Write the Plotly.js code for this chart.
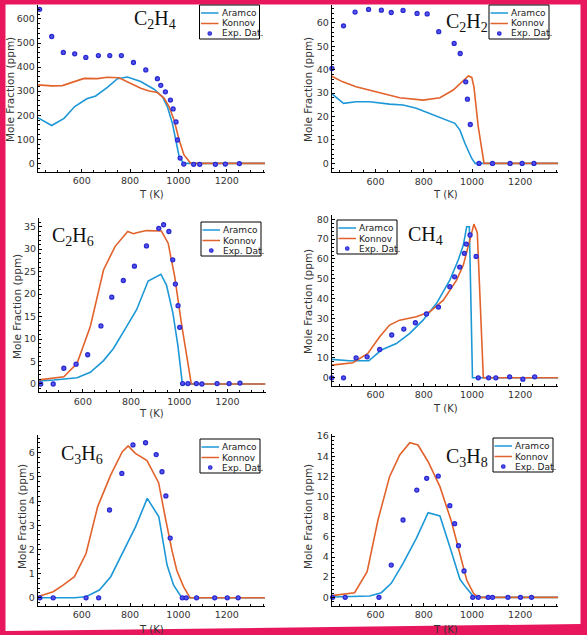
<!DOCTYPE html>
<html><head><meta charset="utf-8">
<script src="https://cdn.plot.ly/plotly-3.0.1.min.js"></script>
<style>html,body{margin:0;padding:0;background:#fff}#chart{width:587px;height:635px}</style>
</head><body><div id="chart"></div>
<script>
// ---------- DATA ----------
const seriesNames = ['Aramco', 'Konnov', 'Exp. Dat.'];
const speciesLabels = ['C<sub>2</sub>H<sub>4</sub>', 'C<sub>2</sub>H<sub>2</sub>', 'C<sub>2</sub>H<sub>6</sub>', 'CH<sub>4</sub>', 'C<sub>3</sub>H<sub>6</sub>', 'C<sub>3</sub>H<sub>8</sub>'];
const xTitle = 'T (K)';
const yTitle = 'Mole Fraction (ppm)';

// C2H4
const c2h4ExpT = [426,476,524,571,617,669,716,764,814,865,913,927,946,967,978,990,996,1007,1022,1063,1088,1153,1194,1252];
const c2h4ExpY = [640,527,461,455,440,448,448,448,419,388,352,324,297,263,226,172,97,22,-3,-4,-4,-4,-3,-1];
const c2h4AraT = [418,476,527,571,621,658,706,748,789,844,899,934,954,975,989,1003,1021,1358];
const c2h4AraY = [190,157,187,236,268,280,316,352,359,340,308,277,236,166,97,28,0,0];
const c2h4KonT = [418,476,520,568,610,665,706,754,803,844,879,913,941,961,982,1003,1023,1051,1358];
const c2h4KonY = [326,322,323,340,353,352,358,356,333,312,301,294,270,236,180,97,35,0,0];

// C2H2
const c2h2ExpT = [419,467,515,571,624,665,714,772,814,862,926,951,974,981,993,1029,1085,1158,1208,1257];
const c2h2ExpY = [40.5,58.7,64.6,65.7,65.4,64.4,65.3,64.0,63.8,56.2,51.2,46.9,34.8,27.4,16.6,0,0,0,0,0];
const c2h2AraT = [418,467,519,575,658,714,769,839,894,929,950,971,999,1013,1358];
const c2h2AraY = [29.8,25.6,26.3,26.3,25.3,24.9,23.5,20.6,18.5,17.1,14.2,8.5,2.1,0,0];
const c2h2KonT = [418,464,519,603,700,797,818,867,922,957,985,999,1008,1026,1050,1358];
const c2h2KonY = [37.2,34.8,32.7,30.6,28.0,27.0,27.3,28.0,31.3,34.8,37.3,36.7,32.7,15.6,0,0];

// C2H6
const c2h6ExpT = [425,477,521,572,620,675,720,768,814,864,915,935,957,973,984,995,1002,1014,1036,1071,1094,1157,1207,1252];
const c2h6ExpY = [0,0,3.5,4.4,6.5,12.9,19.3,23.0,26.2,30.7,34.6,35.4,33.9,27.6,22.2,17.4,12.6,0.1,0.1,0.1,0,0.1,0.1,0.2];
const c2h6AraT = [418,480,576,631,686,727,782,823,871,924,947,974,995,1013,1358];
const c2h6AraY = [0.7,0.9,1.4,2.6,5.2,7.9,12.8,16.5,22.9,24.4,22.0,15.7,8.3,0,0];
const c2h6KonT = [418,521,576,631,686,734,786,810,823,864,926,954,981,1009,1050,1358];
const c2h6KonY = [0.9,1.6,4.6,12.8,25.4,30.6,33.9,33.4,33.6,34.1,34.0,31.3,23.9,13.5,0,0];

// CH4
const ch4ExpT = [418,467,519,565,617,667,717,765,811,861,908,928,949,968,976,992,1017,1026,1069,1099,1156,1211,1260];
const ch4ExpY = [0,0,10.1,10.6,14.3,21.6,24.6,27.8,32.2,35.7,46.0,51.0,55.9,62.8,67.5,72.1,61.3,0,0,0,0.5,-0.7,0.5];
const ch4AraT = [418,492,572,624,686,742,797,853,908,943,964,978,989,1002,1358];
const ch4AraY = [9.3,8.6,8.6,14.0,17.3,22.4,29.1,37.6,49.3,59.5,67.0,76.3,76.3,0,0];
const ch4KonT = [418,506,568,617,658,700,769,825,881,936,964,985,1008,1022,1047,1358];
const ch4KonY = [6.4,7.6,12.3,20.7,26.6,29.1,30.8,33.3,39.2,49.3,56.9,66.2,77.6,73.3,0,0];

// C3H6
const c3h6ExpT = [427,482,618,670,715,766,812,864,908,932,948,966,1016,1032,1075,1150,1202,1247];
const c3h6ExpY = [0,0,0,0,3.63,5.14,6.32,6.41,5.92,5.21,4.21,2.47,0,0,0,0,0,0];
const c3h6AraT = [418,570,618,673,720,775,823,871,919,953,980,1014,1358];
const c3h6AraY = [0,0,0.04,0.32,0.87,1.97,2.94,4.11,3.35,1.35,0.52,0,0];
const c3h6KonT = [418,482,523,570,618,666,720,768,792,822,870,918,945,973,993,1021,1048,1358];
const c3h6KonY = [0.04,0.25,0.52,0.87,1.83,3.77,5.08,6.04,6.28,5.97,5.67,4.76,3.35,1.97,1.14,0.46,0,0];

// C3H8
const c3h8ExpT = [422,474,614,665,714,771,812,860,908,928,944,967,1003,1026,1067,1085,1149,1201,1247];
const c3h8ExpY = [0,0,0,3.2,7.67,10.64,11.8,12.03,9.09,7.31,5.12,2.61,0,0,0,0,0,0,0];
const c3h8AraT = [418,519,575,624,665,714,769,818,867,908,950,978,1006,1019,1358];
const c3h8AraY = [0.03,0.07,0.13,0.46,1.39,3.37,5.85,8.4,8.07,5.02,1.79,0.89,0.07,0,0];
const c3h8KonT = [418,513,565,610,658,700,742,776,818,867,915,950,978,1006,1026,1358];
const c3h8KonY = [0.17,0.46,2.55,7.67,11.97,14.12,15.34,15.11,13.45,10.98,7.5,4.36,1.72,0.4,0,0];

const expT = [c2h4ExpT, c2h2ExpT, c2h6ExpT, ch4ExpT, c3h6ExpT, c3h8ExpT];
const expY = [c2h4ExpY, c2h2ExpY, c2h6ExpY, ch4ExpY, c3h6ExpY, c3h8ExpY];
const araT = [c2h4AraT, c2h2AraT, c2h6AraT, ch4AraT, c3h6AraT, c3h8AraT];
const araY = [c2h4AraY, c2h2AraY, c2h6AraY, ch4AraY, c3h6AraY, c3h8AraY];
const konT = [c2h4KonT, c2h2KonT, c2h6KonT, ch4KonT, c3h6KonT, c3h8KonT];
const konY = [c2h4KonY, c2h2KonY, c2h6KonY, ch4KonY, c3h6KonY, c3h8KonY];

// ---------- LAYOUT (pixels) ----------
const W = 587, H = 635;
const px = x => x / W, py = y => 1 - y / H;
const panels = [
  {x0:37.7, x1:265,   y0:5,     y1:172,   yr:[-36,658],   dt:100, tt:[155,20],  lg:[199.5,5], yt:[10,90],  xt:[151,194]},
  {x0:331.7,x1:558.3, y0:5,     y1:172.3, yr:[-3.8,67.6], dt:10,  tt:[467,22],  lg:[489,5],   yt:[308,90], xt:[445,194]},
  {x0:39,   x1:265.5, y0:218,   y1:392.3, yr:[-1.85,36.9],dt:5,   tt:[73,236],  lg:[201,222], yt:[17,307], xt:[151,413]},
  {x0:331.7,x1:558.3, y0:215,   y1:385.7, yr:[-4,82.2],   dt:10,  tt:[425,235], lg:[337,220], yt:[308,302],xt:[445,408]},
  {x0:37.7, x1:265,   y0:435,   y1:606,   yr:[-0.34,6.73],dt:1,   tt:[82,455],  lg:[200,439], yt:[22,517], xt:[151,629]},
  {x0:331.7,x1:558.3, y0:434,   y1:605.7, yr:[-0.83,16.2],dt:2,   tt:[467,457], lg:[493,438], yt:[308,517],xt:[445,629]}
];
const XR = [418, 1358];
const colA = '#1d98d6', colK = '#e2622b', colE = '#2a2ad2', colEfill = '#5656ee';
const tickFont = {family:'DejaVu Sans', size:9.5, color:'#333'};

const traces = [];
const layout = {
  width: W, height: H, margin:{l:0,r:0,t:0,b:0},
  paper_bgcolor:'#e8175d', plot_bgcolor:'rgba(0,0,0,0)',
  showlegend:false, shapes:[], annotations:[]
};
layout.shapes.push({type:'path', xref:'paper', yref:'paper', layer:'below',
  path:`M ${px(5.5)},${py(4.5)} L ${px(580.5)},${py(4.5)} L ${px(580.5)},${py(624)} L ${px(5.5)},${py(631)} Z`,
  fillcolor:'#ffffff', line:{width:0}});

panels.forEach((p, i) => {
  const n = i === 0 ? '' : String(i + 1);
  const xa = 'x' + n, ya = 'y' + n;
  layout['xaxis' + n] = {
    domain:[px(p.x0), px(p.x1)], range:XR, anchor:ya, dtick:200, tick0:0,
    showline:true, linecolor:'#000', linewidth:1, showgrid:false, zeroline:false,
    ticks:'inside', ticklen:3, tickcolor:'#000', tickfont:tickFont,
    minor:{dtick:50, ticks:'inside', ticklen:2, tickcolor:'#000', showgrid:false}
  };
  layout['yaxis' + n] = {
    domain:[py(p.y1), py(p.y0)], range:p.yr, anchor:xa, dtick:p.dt, tick0:0,
    showline:true, linecolor:'#000', linewidth:1, showgrid:false, zeroline:false,
    ticks:'inside', ticklen:3, tickcolor:'#000', tickfont:tickFont,
    minor:{dtick:p.dt/5, ticks:'inside', ticklen:2, tickcolor:'#000', showgrid:false}
  };
  traces.push({type:'scatter', mode:'lines', name:seriesNames[0], x:araT[i], y:araY[i], xaxis:xa, yaxis:ya,
    line:{color:colA, width:1.6}});
  traces.push({type:'scatter', mode:'lines', name:seriesNames[1], x:konT[i], y:konY[i], xaxis:xa, yaxis:ya,
    line:{color:colK, width:1.6}});
  traces.push({type:'scatter', mode:'markers', name:seriesNames[2], x:expT[i], y:expY[i], xaxis:xa, yaxis:ya,
    cliponaxis:false,
    marker:{symbol:'circle', size:4, color:colEfill, line:{color:colE, width:1.3}}});

  // species title
  layout.annotations.push({xref:'paper', yref:'paper', x:px(p.tt[0]), y:py(p.tt[1]), xanchor:'center', yanchor:'middle',
    text:speciesLabels[i], showarrow:false, font:{family:'Liberation Serif', size:20, color:'#111'}});
  // axis titles
  layout.annotations.push({xref:'paper', yref:'paper', x:px(p.yt[0]), y:py(p.yt[1]), xanchor:'center', yanchor:'middle',
    text:yTitle, textangle:-90, showarrow:false, font:{family:'DejaVu Sans', size:10.5, color:'#333'}});
  layout.annotations.push({xref:'paper', yref:'paper', x:px(p.xt[0]), y:py(p.xt[1]), xanchor:'center', yanchor:'middle',
    text:xTitle, showarrow:false, font:{family:'DejaVu Sans', size:10, color:'#333'}});

  // legend box
  const lx = p.lg[0], ly = p.lg[1];
  layout.shapes.push({type:'rect', xref:'paper', yref:'paper', layer:'above',
    x0:px(lx), x1:px(lx + 60), y0:py(ly), y1:py(ly + 34), fillcolor:'#fff', line:{color:'#000', width:1}});
  const rows = [ly + 8, ly + 18.5, ly + 28.5];
  [colA, colK].forEach((c, k) => {
    layout.shapes.push({type:'line', xref:'paper', yref:'paper', layer:'above',
      x0:px(lx + 1.5), x1:px(lx + 19), y0:py(rows[k]), y1:py(rows[k]), line:{color:c, width:1.5}});
  });
  layout.shapes.push({type:'circle', xref:'paper', yref:'paper', layer:'above',
    x0:px(lx + 8.5), x1:px(lx + 12), y0:py(rows[2] - 1.75), y1:py(rows[2] + 1.75), fillcolor:colEfill, line:{color:colE, width:1.2}});
  seriesNames.forEach((s, k) => {
    layout.annotations.push({xref:'paper', yref:'paper', x:px(lx + 20), y:py(rows[k]), xanchor:'left', yanchor:'middle',
      text:s, showarrow:false, font:{family:'DejaVu Sans', size:9, color:'#222'}});
  });
});

Plotly.newPlot('chart', traces, layout, {staticPlot:true, displayModeBar:false});
</script>
</body></html>
